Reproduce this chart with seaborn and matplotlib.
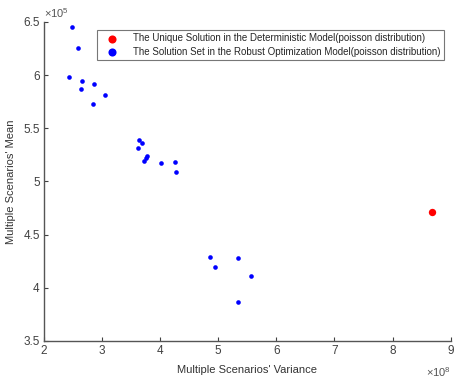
import numpy as np
import pandas as pd
import seaborn as sns
import matplotlib
matplotlib.use("Agg")
import matplotlib.pyplot as plt
from matplotlib.ticker import FuncFormatter

# robust optimization solution set (variance x1e8, mean x1e5)
robust_var = [2.475, 2.581, 2.429, 2.649, 2.632, 2.853, 2.836, 3.056,
              3.639, 3.695, 3.622, 3.775, 3.758, 3.724, 4.017, 4.249, 4.266,
              4.853, 4.944, 5.334, 5.571, 5.339]
robust_mean = [6.450, 6.255, 5.979, 5.941, 5.867, 5.920, 5.726, 5.813,
               5.393, 5.359, 5.312, 5.239, 5.221, 5.192, 5.174, 5.186, 5.092,
               4.292, 4.198, 4.280, 4.111, 3.863]
# deterministic unique solution
det_var = [8.673]
det_mean = [4.713]

lab_det = "The Unique Solution in the Deterministic Model(poisson distribution)"
lab_rob = "The Solution Set in the Robust Optimization Model(poisson distribution)"

df_rob = pd.DataFrame({"var": np.array(robust_var) * 1e8, "mean": np.array(robust_mean) * 1e5})
df_det = pd.DataFrame({"var": np.array(det_var) * 1e8, "mean": np.array(det_mean) * 1e5})

sns.set_style("white")
plt.rcParams['font.family'] = ['Liberation Sans', 'DejaVu Sans']
plt.rcParams['mathtext.fontset'] = 'custom'
plt.rcParams['mathtext.rm'] = 'Liberation Sans'

fig = plt.figure(figsize=(4.58, 3.78), dpi=100)
ax = fig.add_axes([0.096, 0.098, 0.888, 0.844])

sns.scatterplot(data=df_det, x="var", y="mean", color="red", s=28, linewidth=0,
                label=lab_det, ax=ax)
sns.scatterplot(data=df_rob, x="var", y="mean", color="blue", s=11, linewidth=0,
                label=lab_rob, ax=ax)

ax.set_xlim(2e8, 9e8)
ax.set_ylim(3.5e5, 6.5e5)
ax.set_xticks(np.arange(2, 10) * 1e8)
ax.set_yticks(np.arange(3.5, 6.6, 0.5) * 1e5)
ax.xaxis.set_major_formatter(FuncFormatter(lambda v, p: f"{v / 1e8:g}"))
ax.yaxis.set_major_formatter(FuncFormatter(lambda v, p: f"{v / 1e5:g}"))

ax.text(0.0, 1.005, r"$\times10^{5}$", transform=ax.transAxes, fontsize=8,
        color="#555555", ha="left", va="bottom")
ax.text(1.0, -0.075, r"$\times10^{8}$", transform=ax.transAxes, fontsize=8,
        color="#555555", ha="right", va="top")

ax.tick_params(direction="in", length=3, width=0.8, labelsize=8.5,
               colors="#404040", bottom=True, left=True, pad=3)
for side in ("top", "right"):
    ax.spines[side].set_visible(False)
for side in ("left", "bottom"):
    ax.spines[side].set_color("#555555")
    ax.spines[side].set_linewidth(1.0)

ax.set_xlabel("Multiple Scenarios' Variance", fontsize=8, color="#333333", labelpad=6)
ax.set_ylabel("Multiple Scenarios' Mean", fontsize=8, color="#333333", labelpad=5)

leg = ax.legend(loc="upper right", bbox_to_anchor=(0.995, 0.99), fontsize=7,
                frameon=True, fancybox=False, edgecolor="#555555",
                handletextpad=0.9, borderpad=0.35, labelspacing=0.35,
                handlelength=2.4)
for h in leg.legend_handles:
    h.set_sizes([34])
leg.get_frame().set_linewidth(0.8)

fig.savefig("out.png", dpi=100)
